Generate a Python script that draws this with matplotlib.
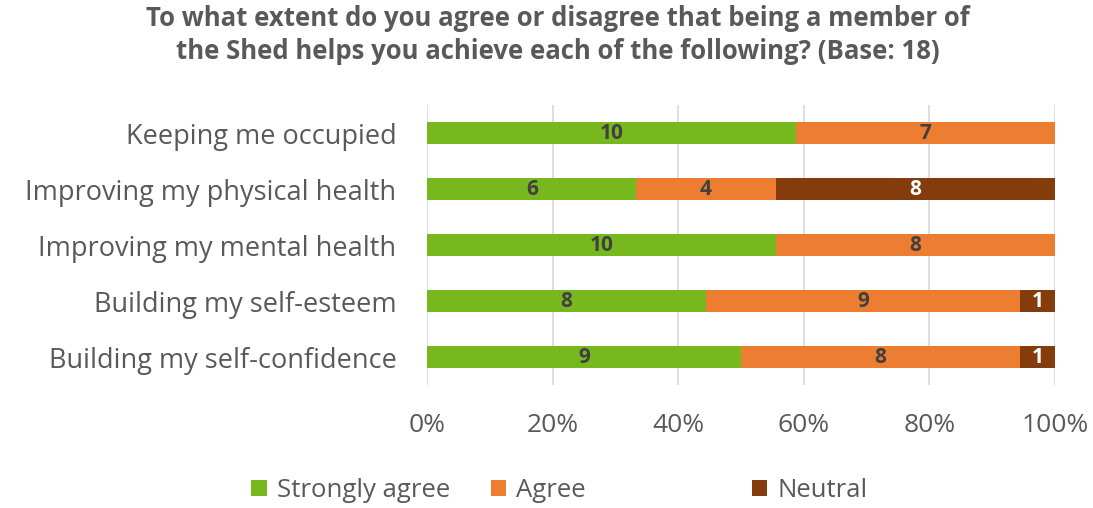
import numpy as np
import matplotlib.pyplot as plt

plt.rcParams['font.family'] = ['Open Sans', 'DejaVu Sans']

categories = ["Keeping me occupied", "Improving my physical health", "Improving my mental health",
              "Building my self-esteem", "Building my self-confidence"]
strongly_agree = [10, 6, 10, 8, 9]
agree = [7, 4, 8, 9, 8]
neutral = [0, 8, 0, 1, 1]

series = [("Strongly agree", strongly_agree, "#77B81E", "#404040"),
          ("Agree", agree, "#ED7D31", "#404040"),
          ("Neutral", neutral, "#843C0C", "white")]

counts = np.array([strongly_agree, agree, neutral], dtype=float)
totals = counts.sum(axis=0)

fig = plt.figure(figsize=(10.93, 5.08), dpi=100)
ax = fig.add_axes([0.3907, 0.242, 0.5745, 0.551])

y = np.arange(len(categories))
left = np.zeros(len(categories))
bars = []
for name, vals, color, tcol in series:
    vals = np.array(vals, dtype=float)
    w = vals / totals
    b = ax.barh(y, w, left=left, height=0.4, color=color, label=name, zorder=3)
    bars.append(b)
    for i in range(len(y)):
        if vals[i] > 0:
            ax.text(left[i] + w[i] / 2, y[i], "%d" % vals[i], ha="center", va="center",
                    fontsize=15, fontweight="bold", color=tcol, zorder=4)
    left += w

ax.set_ylim(len(categories) - 0.5, -0.5)
ax.set_xlim(0, 1)
ax.set_yticks(y)
ax.set_yticklabels(categories, fontsize=19.5, color="#595959")
ax.set_xticks(np.linspace(0, 1, 6))
ax.set_xticklabels(["0%", "20%", "40%", "60%", "80%", "100%"], fontsize=19, color="#595959")
ax.tick_params(axis="y", length=0, pad=22)
ax.tick_params(axis="x", length=0, pad=20)
ax.grid(axis="x", color="#D9D9D9", linewidth=1.2, zorder=0)
for s in ax.spines.values():
    s.set_visible(False)

fig.suptitle("To what extent do you agree or disagree that being a member of\n"
             "the Shed helps you achieve each of the following? (Base: 18)",
             x=0.51, y=0.99, fontsize=18.5, fontweight="bold", color="#595959", linespacing=1.3)

# one legend per entry, spaced like the original
leg_x = [0.230, 0.449, 0.688]
for b, (name, _, _, _), lx in zip(bars, series, leg_x):
    lg = fig.legend([b], [name], loc="center left", bbox_to_anchor=(lx, 0.035), frameon=False,
                    fontsize=18.5, labelcolor="#595959", handlelength=0.6, handleheight=0.6,
                    handletextpad=0.4, borderpad=0, borderaxespad=0)

fig.savefig("out.png", dpi=100)
